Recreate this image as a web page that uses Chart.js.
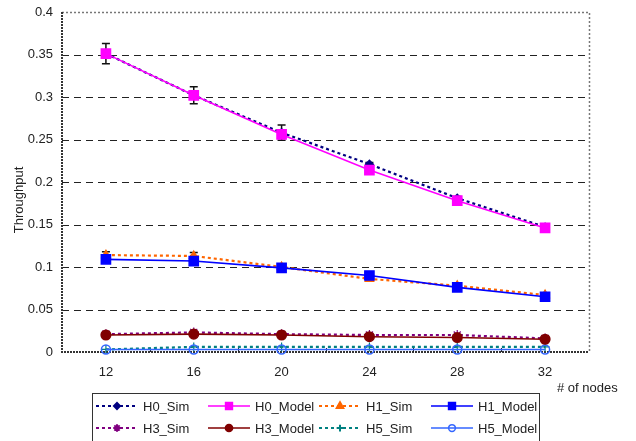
<!DOCTYPE html>
<html>
<head>
<meta charset="utf-8">
<script src="https://cdn.jsdelivr.net/npm/chart.js@4.4.1/dist/chart.umd.min.js"></script>
<style>
  html, body { margin: 0; padding: 0; background: #fff; }
  #wrap { width: 636px; height: 441px; position: relative; }
</style>
</head>
<body>
<div id="wrap"><canvas id="id-throughput-chart"></canvas></div>
<script>
//#region [Chart data.]
const _nodes = ['12', '16', '20', '24', '28', '32'];

const _h0_sim   = [0.351, 0.302, 0.258, 0.221, 0.181, 0.147];
const _h0_model = [0.351, 0.302, 0.256, 0.214, 0.178, 0.146];
const _h1_sim   = [0.114, 0.113, 0.100, 0.086, 0.078, 0.067];
const _h1_model = [0.109, 0.107, 0.099, 0.090, 0.076, 0.065];
const _h3_sim   = [0.021, 0.023, 0.021, 0.020, 0.020, 0.016];
const _h3_model = [0.020, 0.021, 0.020, 0.018, 0.017, 0.015];
const _h5_sim   = [0.003, 0.006, 0.006, 0.006, 0.006, 0.006];
const _h5_model = [0.003, 0.003, 0.003, 0.003, 0.003, 0.003];

// half-width of the error bars on the simulated series
const _h0_sim_err = [0.012, 0.010, 0.009, 0.002, 0.002, 0.001];
const _h1_sim_err = [0.004, 0.004, 0.002, 0.002, 0.001, 0.001];

const _y_ticks = [0, 0.05, 0.1, 0.15, 0.2, 0.25, 0.3, 0.35, 0.4];
//#endregion

const FONT = "'Liberation Sans', Arial, sans-serif";

function SimSet(label, data, color, style, radius, errors)
{
  return {
    label: label, data: data, errors: errors || null,
    borderColor: color, backgroundColor: color,
    borderWidth: 2.2, borderDash: [3, 3],
    pointStyle: style, pointRadius: radius, pointBorderWidth: 1.2,
    pointBackgroundColor: color, pointBorderColor: color,
    tension: 0, clip: false, order: 1
  };
}

function ModelSet(label, data, color, style, radius, fill)
{
  return {
    label: label, data: data,
    borderColor: color, backgroundColor: color,
    borderWidth: 1.6, borderDash: [],
    pointStyle: style, pointRadius: radius, pointBorderWidth: 1.5,
    pointBackgroundColor: fill, pointBorderColor: color,
    tension: 0, clip: false, order: 0
  };
}

const _datasets =
[
  SimSet('H0_Sim', _h0_sim, '#000080', 'rectRot', 4, _h0_sim_err),
  ModelSet('H0_Model', _h0_model, '#FF00FF', 'rect', 6.5, '#FF00FF'),
  SimSet('H1_Sim', _h1_sim, '#FF6600', 'triangle', 5, _h1_sim_err),
  ModelSet('H1_Model', _h1_model, '#0000FF', 'rect', 6.5, '#0000FF'),
  SimSet('H3_Sim', _h3_sim, '#800080', 'star', 5),
  ModelSet('H3_Model', _h3_model, '#800000', 'circle', 4.8, '#800000'),
  SimSet('H5_Sim', _h5_sim, '#008080', 'cross', 4.5),
  ModelSet('H5_Model', _h5_model, '#3366FF', 'circle', 4.5, 'rgba(255,255,255,0)')
];

const framePlugin =
{
  id: 'frame',
  beforeDatasetsDraw(chart)
  {
    const ctx = chart.ctx;
    const a = chart.chartArea;
    const ys = chart.scales.y;
    const xs = chart.scales.x;
    ctx.save();

    // dashed horizontal grid
    ctx.strokeStyle = '#222';
    ctx.lineWidth = 1;
    ctx.setLineDash([7, 5]);
    _y_ticks.forEach(v =>
    {
      if (v <= 0 || v >= 0.4) return;
      const y = Math.round(ys.getPixelForValue(v)) + 0.5;
      ctx.beginPath(); ctx.moveTo(a.left, y); ctx.lineTo(a.right, y); ctx.stroke();
    });

    // top and right border (light dotted)
    ctx.strokeStyle = '#777';
    ctx.lineWidth = 1.5;
    ctx.setLineDash([2, 2]);
    ctx.beginPath();
    ctx.moveTo(a.left, a.top + 0.5); ctx.lineTo(a.right + 0.5, a.top + 0.5); ctx.lineTo(a.right + 0.5, a.bottom);
    ctx.stroke();

    // left and bottom axis (dark dotted)
    ctx.strokeStyle = '#333';
    ctx.lineWidth = 2;
    ctx.setLineDash([2, 1]);
    ctx.beginPath();
    ctx.moveTo(a.left, a.top); ctx.lineTo(a.left, a.bottom); ctx.lineTo(a.right, a.bottom);
    ctx.stroke();

    // x ticks between categories, pointing inward
    ctx.setLineDash([]);
    ctx.lineWidth = 1;
    ctx.strokeStyle = '#222';
    for (let i = 0; i < _nodes.length - 1; i++)
    {
      const x = Math.round((xs.getPixelForValue(i) + xs.getPixelForValue(i + 1)) / 2) + 0.5;
      ctx.beginPath(); ctx.moveTo(x, a.bottom); ctx.lineTo(x, a.bottom - 4); ctx.stroke();
    }

    // error bars
    ctx.strokeStyle = '#111';
    ctx.lineWidth = 1.5;
    chart.data.datasets.forEach(ds =>
    {
      if (!ds.errors) return;
      ds.data.forEach((v, i) =>
      {
        const x = xs.getPixelForValue(i);
        const y1 = ys.getPixelForValue(v + ds.errors[i]);
        const y2 = ys.getPixelForValue(v - ds.errors[i]);
        ctx.beginPath();
        ctx.moveTo(x, y1); ctx.lineTo(x, y2);
        ctx.moveTo(x - 4, y1); ctx.lineTo(x + 4, y1);
        ctx.moveTo(x - 4, y2); ctx.lineTo(x + 4, y2);
        ctx.stroke();
      });
    });
    ctx.restore();
  },
  afterDraw(chart)
  {
    const ctx = chart.ctx;
    const a = chart.chartArea;
    ctx.save();

    // axis titles
    ctx.fillStyle = '#222';
    ctx.font = '13px ' + FONT;
    ctx.textBaseline = 'middle';
    ctx.textAlign = 'left';
    ctx.fillText('# of nodes', a.right - 32, 388);
    ctx.translate(19, 200);
    ctx.rotate(-Math.PI / 2);
    ctx.textAlign = 'center';
    ctx.fillText('Throughput', 0, 0);
    ctx.setTransform(1, 0, 0, 1, 0, 0);

    // legend box
    ctx.strokeStyle = '#333';
    ctx.lineWidth = 1;
    ctx.strokeRect(92.5, 393.5, 447, 60);

    const colX = [96, 208, 319, 431];
    const rowY = [406, 428];
    chart.data.datasets.forEach((ds, i) =>
    {
      const x = colX[i % 4];
      const y = rowY[Math.floor(i / 4)];
      ctx.strokeStyle = ds.borderColor;
      ctx.lineWidth = ds.borderDash.length ? 2 : 1.5;
      ctx.setLineDash(ds.borderDash);
      ctx.beginPath(); ctx.moveTo(x, y); ctx.lineTo(x + 42, y); ctx.stroke();
      ctx.setLineDash([]);
      ctx.fillStyle = ds.pointBackgroundColor;
      ctx.strokeStyle = ds.pointBorderColor;
      Chart.helpers.drawPoint(ctx,
        { pointStyle: ds.pointStyle, radius: ds.pointRadius * 0.75, rotation: 0, borderWidth: ds.pointBorderWidth },
        x + 21, y);
      ctx.fillStyle = '#222';
      ctx.textAlign = 'left';
      ctx.fillText(ds.label, x + 47, y + 1);
    });
    ctx.restore();
  }
};

document.addEventListener('DOMContentLoaded', function()
{
  const ctx = document.getElementById('id-throughput-chart').getContext('2d');

  new Chart(ctx,
  {
    type: 'line',
    data: { labels: _nodes, datasets: _datasets },
    options:
    {
      animation: false,
      responsive: true,
      maintainAspectRatio: false,
      layout: { padding: { top: 12, right: 47, left: 0, bottom: 0 } },
      plugins: { legend: { display: false }, tooltip: { enabled: false } },
      scales:
      {
        x:
        {
          type: 'category',
          offset: true,
          grid: { display: false, drawTicks: false },
          border: { display: false },
          ticks: { color: '#222', font: { family: FONT, size: 13 }, padding: 13 },
          afterFit: s => { s.height = 89; s.paddingLeft = 0; s.paddingRight = 0; }
        },
        y:
        {
          min: 0,
          max: 0.4,
          afterBuildTicks: s => { s.ticks = _y_ticks.map(v => ({ value: v })); },
          grid: { display: false, drawTicks: false },
          border: { display: false },
          ticks:
          {
            color: '#222',
            font: { family: FONT, size: 13 },
            padding: 9,
            callback: v => String(+Number(v).toFixed(2))
          },
          afterFit: s => { s.width = 62; s.paddingTop = 0; s.paddingBottom = 0; }
        }
      }
    },
    plugins: [framePlugin]
  });
});
</script>
</body>
</html>
